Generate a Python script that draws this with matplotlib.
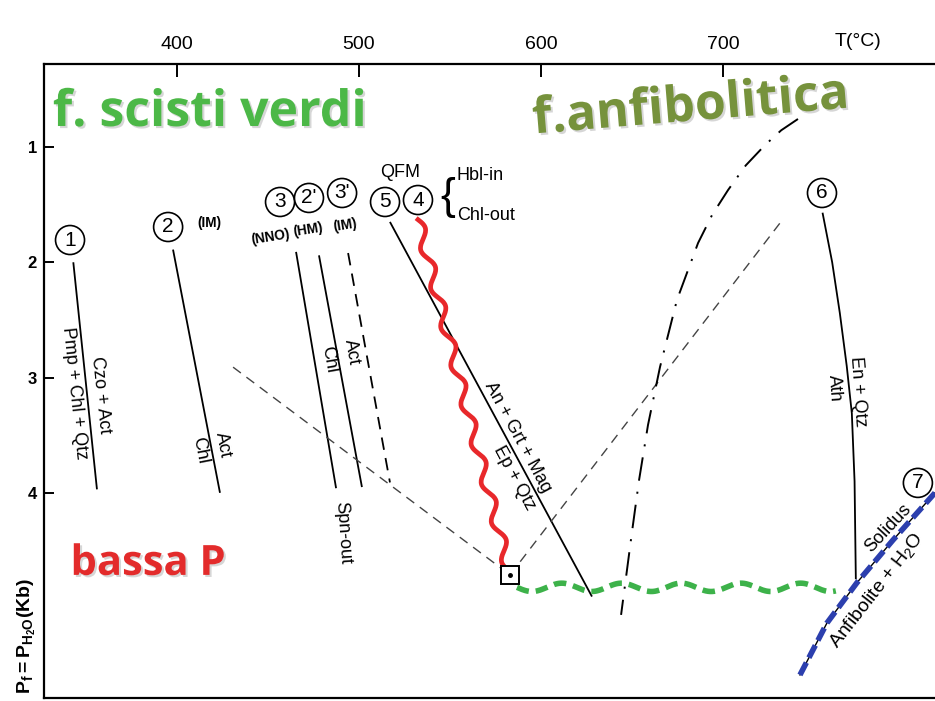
import numpy as np
import matplotlib
matplotlib.use("Agg")
import matplotlib.pyplot as plt
import matplotlib.patheffects as pe
from matplotlib.path import Path
from matplotlib.transforms import IdentityTransform, blended_transform_factory

plt.rcParams['lines.scale_dashes'] = False
plt.rcParams['font.family'] = ['Liberation Sans', 'DejaVu Sans']
plt.rcParams['mathtext.fontset'] = 'custom'
plt.rcParams['mathtext.rm'] = 'Liberation Sans'
plt.rcParams['mathtext.it'] = 'Liberation Sans:italic'
plt.rcParams['mathtext.bf'] = 'Liberation Sans:bold'

# ---- axes ranges and ticks (T in °C, P in kb) ----
T_LIM = (326.9, 816.5)
P_LIM = (5.78, 0.28)
T_TICKS = [400, 500, 600, 700]
P_TICKS = [1, 2, 3, 4]

# ---- reaction curves ----
r1_T = [343.0, 356.0]
r1_P = [2.00, 3.97]
r2_T = [397.8, 423.6]
r2_P = [1.89, 4.00]
r3_T = [465.4, 487.4]
r3_P = [1.91, 3.96]
r2p_T = [478.0, 501.6]
r2p_P = [1.94, 3.95]
r3p_T = [494.0, 517.0]
r3p_P = [1.92, 3.91]
r5_T = [517.0, 628.0]
r5_P = [1.65, 4.90]
r4_T = [532.4, 583.0]
r4_P = [1.63, 4.71]
r6_T = [754.7, 760.0, 764.2, 768.0, 770.8, 772.3, 773.0]
r6_P = [1.57, 2.00, 2.44, 2.90, 3.31, 3.90, 4.75]
solidus_T = [742.3, 757.1, 773.6, 793.4, 816.5, 830.0]
solidus_P = [5.58, 5.13, 4.78, 4.41, 4.00, 3.77]
dashdot_T = [741.2, 732.0, 723.1, 712.5, 702.8, 694.0, 686.3, 674.7,
             665.4, 658.8, 653.9, 650.0, 644.0]
dashdot_P = [0.757, 0.855, 0.983, 1.160, 1.373, 1.590, 1.833, 2.327,
             2.908, 3.411, 3.888, 4.339, 5.059]
lowP_T = [586.8, 762.0]
lowP_P = [4.82, 4.82]
dashL_T = [430.8, 583.0]
dashL_P = [2.91, 4.712]
dashR_T = [583.0, 731.3]
dashR_P = [4.712, 1.66]
inv_T = 583.0
inv_P = 4.712


class Wavy(pe.AbstractPathEffect):
    """Draw a path as a sinuous line (wavelength / amplitude in points)."""

    def __init__(self, wavelength, amplitude, phase=0.0):
        super().__init__()
        self.wl = wavelength
        self.amp = amplitude
        self.phase = phase

    def draw_path(self, renderer, gc, tpath, affine, rgbFace=None):
        pts = affine.transform(tpath.vertices)
        wl = renderer.points_to_pixels(self.wl)
        amp = renderer.points_to_pixels(self.amp)
        seg = np.diff(pts, axis=0)
        s = np.concatenate([[0], np.cumsum(np.hypot(seg[:, 0], seg[:, 1]))])
        n = max(int(s[-1]), 2)
        ss = np.linspace(0, s[-1], n)
        x = np.interp(ss, s, pts[:, 0])
        y = np.interp(ss, s, pts[:, 1])
        dx, dy = np.gradient(x), np.gradient(y)
        nrm = np.hypot(dx, dy)
        off = amp * np.sin(2 * np.pi * ss / wl + self.phase)
        new = np.column_stack([x - dy / nrm * off, y + dx / nrm * off])
        renderer.draw_path(gc, Path(new), IdentityTransform(), rgbFace)


fig = plt.figure(figsize=(9.35, 7.01), dpi=100)
ax = fig.add_axes([44 / 935, 3 / 701, 891 / 935, 634 / 701])
ax.set_xlim(*T_LIM)
ax.set_ylim(*P_LIM)

for side in ('left', 'top', 'bottom'):
    ax.spines[side].set_linewidth(1.6)
ax.spines['right'].set_visible(False)

ax.xaxis.set_ticks_position('top')
ax.set_xticks(T_TICKS)
ax.set_xticklabels([str(t) for t in T_TICKS])
ax.tick_params(axis='x', direction='in', length=9, width=1.4, pad=8,
               labelsize=14)
ax.set_yticks(P_TICKS)
ax.set_yticklabels([str(p) for p in P_TICKS], fontweight='bold')
ax.tick_params(axis='y', direction='in', length=7, width=1.4, pad=5,
               labelsize=12)

top = blended_transform_factory(ax.transData, ax.transAxes)
ax.text(774, 1.035, 'T(°C)', transform=top, ha='center', va='center',
        fontsize=14, clip_on=False)

fig.text(27 / 935, 1 - 636 / 701, r'$\mathbf{P_f = P_{H_2O}(Kb)}$',
         rotation=90, ha='center', va='center', fontsize=14)

# ---- solid reaction lines ----
K = dict(color='black', lw=1.3, solid_capstyle='butt')
ax.plot(r1_T, r1_P, **K)
ax.plot(r2_T, r2_P, **K)
ax.plot(r3_T, r3_P, **K)
ax.plot(r2p_T, r2p_P, **K)
ax.plot(r3p_T, r3p_P, color='black', lw=1.3, dashes=(9, 6))
ax.plot(r5_T, r5_P, **K)
ax.plot(r6_T, r6_P, **K)

# ---- grey dashed boundaries from the invariant point ----
ax.plot(dashL_T, dashL_P, color='#444444', lw=1.0, dashes=(7, 5))
ax.plot(dashR_T, dashR_P, color='#444444', lw=1.0, dashes=(7, 5))

# ---- dash-dot curve ----
ax.plot(dashdot_T, dashdot_P, color='black', lw=1.4, dashes=(17, 8, 1.5, 8))

# ---- solidus ----
ax.plot(solidus_T, solidus_P, color='black', lw=1.0)
ax.plot(solidus_T, solidus_P, color='#2c3fae', lw=4, dashes=(10, 4),
        solid_capstyle='butt')

# ---- wavy boundaries ----
ax.plot(r4_T, r4_P, color='#e8282b', lw=3.4, zorder=3,
        path_effects=[Wavy(29, 3.6)])
ax.plot(lowP_T, lowP_P, color='#3db24a', lw=4, dashes=(9, 5), zorder=3,
        path_effects=[Wavy(43, 3.0, phase=np.pi)])

# ---- invariant point ----
ax.plot([inv_T], [inv_P], marker='s', markersize=12.5, mfc='white',
        mec='black', mew=1.4, zorder=6, ls='none')
ax.plot([inv_T], [inv_P], marker='o', markersize=2.5, color='black',
        zorder=7, ls='none')


# ---- circled reaction numbers ----
def circled(t, p, s):
    ax.text(t, p, s, ha='center', va='center', fontsize=15, zorder=8,
            bbox=dict(boxstyle='circle,pad=0.24', fc='white', ec='black',
                      lw=1.2))


circled(341.2, 1.807, '1')
circled(395.1, 1.694, '2')
circled(456.6, 1.477, '3')
circled(472.5, 1.442, "2'")
circled(490.7, 1.399, "3'")
circled(514.3, 1.477, '5')
circled(532.4, 1.460, '4')
circled(754.4, 1.399, '6')
circled(807.1, 3.914, '7')

small = dict(fontsize=9.8, fontweight='bold', ha='center', va='center')
ax.text(418.0, 1.66, '(IM)', **small)
ax.text(451.6, 1.785, '(NNO)', rotation=9, **small)
ax.text(472.0, 1.72, '(HM)', rotation=9, **small)
ax.text(492.6, 1.676, '(IM)', rotation=9, **small)
ax.text(522.5, 1.217, 'QFM', fontsize=13, ha='center', va='center')
ax.text(548.9, 1.44, '{', fontsize=32, ha='center', va='center')
ax.text(553.8, 1.243, 'Hbl-in', fontsize=13, ha='left', va='center')
ax.text(553.8, 1.59, 'Chl-out', fontsize=13, ha='left', va='center')

# ---- reaction labels along the curves ----
lab = dict(fontsize=13, ha='center', va='center')
ax.text(357.7, 3.151, 'Czo + Act', rotation=-84, **lab)
ax.text(343.4, 3.134, 'Pmp + Chl + Qtz', rotation=-84, **lab)
ax.text(425.3, 3.584, 'Act', rotation=-79, **lab)
ax.text(412.6, 3.628, 'Chl', rotation=-79, **lab)
ax.text(496.2, 2.778, 'Act', rotation=-80, **lab)
ax.text(483.5, 2.847, 'Chl', rotation=-80, **lab)
ax.text(491.2, 4.348, 'Spn-out', rotation=-86, **lab)
ax.text(587.4, 3.515, 'An + Grt + Mag', rotation=-61.7, **lab)
ax.text(585.2, 3.871, 'Ep + Qtz', rotation=-61.7, **lab)
ax.text(774.2, 3.125, 'En + Qtz', rotation=-86, **lab)
ax.text(761.0, 3.09, 'Ath', rotation=-86, **lab)
ax.text(790.7, 4.304, 'Solidus', rotation=47, **lab)
ax.text(760.5, 5.33, r'Anfibolite + H$_2$O', rotation=52, fontsize=14,
        ha='left', va='center', rotation_mode='anchor', clip_on=True)

# ---- facies names ----
shadow = [pe.SimplePatchShadow(offset=(1.5, -1.5), shadow_rgbFace='0.55',
                               alpha=0.35), pe.Normal()]
big = dict(family=['Open Sans', 'DejaVu Sans'], fontweight='bold',
           path_effects=shadow, zorder=9)
ax.text(418.1, 0.818, 'f. scisti verdi', fontsize=36, color='#4cb847',
        ha='center', va='baseline', **big)
ax.text(683.0, 0.770, 'f.anfibolitica', fontsize=36, color='#76923c',
        ha='center', va='baseline', rotation=4.7, rotation_mode='anchor',
        **big)
ax.text(384.1, 4.712, 'bassa P', fontsize=30, color='#e32b2b',
        ha='center', va='baseline', **big)

fig.savefig('out.png', dpi=100)
